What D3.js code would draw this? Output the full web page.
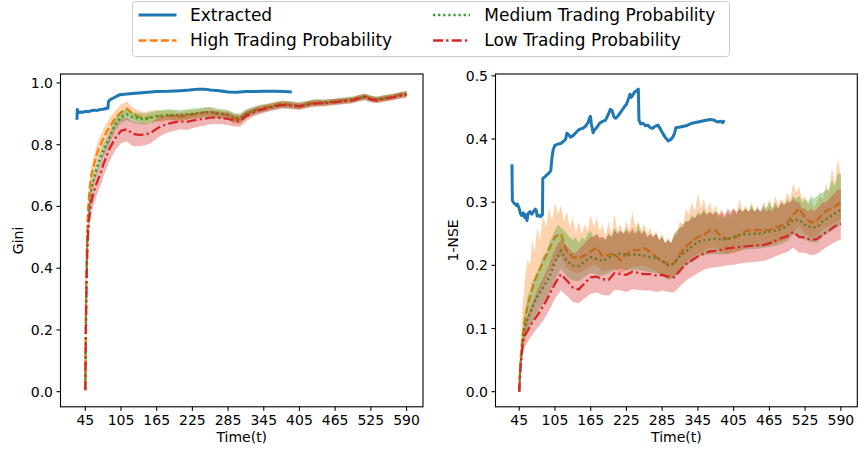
<!DOCTYPE html>
<html><head><meta charset="utf-8">
<script src="https://cdn.jsdelivr.net/npm/d3@7"></script>
<style>body{margin:0;background:#fff}svg{display:block}</style>
</head><body><svg id="c" width="858" height="453"></svg>
<script>
// ---------- DATA ----------
const xTickIdx = [0,60,120,180,240,300,360,420,480,540];
const xTickLabels = ["45","105","165","225","285","345","405","465","525","590"];
const giniTicks = [0,0.2,0.4,0.6,0.8,1.0];
const nseTicks = [0,0.1,0.2,0.3,0.4,0.5];
const seriesNames = ["Extracted","High Trading Probability","Medium Trading Probability","Low Trading Probability"];

const idxCoarse = [0,1,2,3,4,6,8,10,14,18,22,26,30,
 40,50,60,70,80,90,100,110,120,130,
 140,150,160,170,180,190,200,210,220,230,
 240,250,260,270,280,290,300,310,320,330,
 340,350,360,370,380,390,400,410,420,430,
 440,450,460,470,480,490,500,510,520,530,540];
const idxFine = [0,1,2,3,4,6,8,10,14,18,22,26,30,
 35,40,45,50,55,60,65,70,75,80,
 85,90,95,100,105,110,115,120,125,130,
 135,140,145,150,155,160,165,170,175,180,
 185,190,195,200,205,210,215,220,225,230,
 235,240,245,250,255,260,265,270,275,280,
 285,290,295,300,305,310,315,320,325,330,
 335,340,345,350,355,360,365,370,375,380,
 385,390,395,400,405,410,415,420,425,430,
 435,440,445,450,455,460,465,470,475,480,
 485,490,495,500,505,510,515,520,525,530,
 535,540];

// Gini panel
const extGiniIdx = [-14,-13.5,-12,-8,-4,0,5,10,15,20,25,30,36,38,39,42,48,54,58,70,85,100,120,140,160,175,190,200,210,225,240,255,270,285,300,320,335,347];
const extGini = [0.881,0.914,0.903,0.906,0.905,0.908,0.907,0.91,0.912,0.911,0.914,0.915,0.918,0.918,0.94,0.946,0.952,0.958,0.962,0.964,0.967,0.969,0.972,0.973,0.975,0.977,0.98,0.98,0.977,0.975,0.971,0.97,0.972,0.972,0.973,0.973,0.972,0.971];

const giniHigh = [0.005,0.25,0.40,0.49,0.56,0.63,0.67,0.70,0.73,0.76,0.785,0.80,0.82,
 0.855,0.885,0.905,0.917,0.90,0.89,0.885,0.89,0.893,0.89,
 0.895,0.893,0.89,0.895,0.898,0.90,0.905,0.907,0.90,0.898,
 0.895,0.885,0.883,0.90,0.908,0.915,0.92,0.923,0.928,0.932,
 0.93,0.928,0.925,0.93,0.935,0.937,0.936,0.938,0.94,0.942,
 0.944,0.946,0.952,0.957,0.95,0.946,0.95,0.953,0.957,0.962,0.965];
const giniHighLo = [0.0,0.22,0.37,0.46,0.53,0.60,0.64,0.67,0.70,0.73,0.755,0.77,0.79,
 0.825,0.86,0.88,0.895,0.88,0.87,0.865,0.872,0.875,0.873,
 0.878,0.877,0.874,0.88,0.884,0.886,0.89,0.893,0.887,0.885,
 0.88,0.868,0.866,0.886,0.895,0.903,0.908,0.912,0.917,0.921,
 0.92,0.918,0.915,0.92,0.925,0.927,0.927,0.929,0.931,0.933,
 0.935,0.937,0.943,0.948,0.941,0.937,0.941,0.944,0.948,0.953,0.956];
const giniHighHi = [0.01,0.28,0.43,0.52,0.59,0.66,0.70,0.73,0.76,0.79,0.815,0.83,0.85,
 0.885,0.91,0.93,0.94,0.92,0.91,0.905,0.91,0.912,0.908,
 0.912,0.91,0.906,0.91,0.913,0.914,0.92,0.921,0.914,0.912,
 0.91,0.9,0.899,0.914,0.92,0.927,0.932,0.934,0.939,0.943,
 0.94,0.938,0.935,0.94,0.945,0.947,0.945,0.947,0.949,0.951,
 0.953,0.955,0.961,0.966,0.959,0.955,0.959,0.962,0.966,0.971,0.974];

const giniMed = [0.005,0.22,0.37,0.46,0.52,0.585,0.625,0.655,0.69,0.715,0.74,0.76,0.78,
 0.82,0.865,0.89,0.898,0.888,0.885,0.882,0.887,0.892,0.895,
 0.897,0.895,0.895,0.898,0.90,0.902,0.905,0.906,0.902,0.90,
 0.897,0.888,0.885,0.90,0.908,0.914,0.918,0.922,0.926,0.93,
 0.93,0.928,0.926,0.93,0.934,0.936,0.936,0.938,0.94,0.942,
 0.944,0.946,0.951,0.955,0.949,0.946,0.95,0.953,0.957,0.961,0.964];
const giniMedLo = [0.0,0.20,0.35,0.44,0.50,0.565,0.605,0.635,0.67,0.695,0.72,0.74,0.76,
 0.80,0.845,0.87,0.88,0.87,0.868,0.866,0.87,0.876,0.879,
 0.881,0.879,0.879,0.882,0.885,0.887,0.89,0.891,0.887,0.885,
 0.882,0.873,0.87,0.886,0.895,0.901,0.906,0.91,0.914,0.918,
 0.918,0.916,0.914,0.919,0.923,0.925,0.926,0.928,0.93,0.932,
 0.934,0.936,0.941,0.945,0.939,0.936,0.94,0.943,0.947,0.951,0.954];
const giniMedHi = [0.01,0.24,0.39,0.48,0.54,0.605,0.645,0.675,0.71,0.735,0.76,0.78,0.80,
 0.84,0.885,0.91,0.915,0.905,0.903,0.9,0.905,0.91,0.913,
 0.915,0.913,0.912,0.915,0.917,0.918,0.921,0.922,0.918,0.915,
 0.912,0.903,0.9,0.914,0.921,0.927,0.93,0.934,0.938,0.942,
 0.942,0.94,0.938,0.941,0.945,0.947,0.946,0.948,0.95,0.952,
 0.954,0.956,0.961,0.965,0.959,0.956,0.96,0.963,0.967,0.971,0.974];

const giniLow = [0.005,0.20,0.34,0.43,0.49,0.55,0.59,0.615,0.645,0.67,0.69,0.71,0.735,
 0.785,0.82,0.845,0.85,0.835,0.832,0.833,0.838,0.852,0.862,
 0.868,0.872,0.876,0.874,0.878,0.882,0.884,0.888,0.888,0.886,
 0.884,0.878,0.876,0.892,0.902,0.91,0.915,0.92,0.925,0.928,
 0.928,0.926,0.924,0.928,0.932,0.934,0.934,0.936,0.938,0.94,
 0.942,0.944,0.95,0.954,0.947,0.944,0.948,0.951,0.955,0.959,0.962];
const giniLowLo = [0.0,0.17,0.30,0.39,0.45,0.51,0.55,0.575,0.605,0.63,0.65,0.67,0.695,
 0.745,0.78,0.805,0.81,0.795,0.795,0.798,0.805,0.82,0.832,
 0.84,0.845,0.85,0.848,0.853,0.858,0.861,0.866,0.867,0.866,
 0.864,0.859,0.858,0.876,0.888,0.897,0.903,0.908,0.913,0.917,
 0.917,0.915,0.913,0.917,0.921,0.923,0.924,0.926,0.928,0.93,
 0.932,0.934,0.94,0.944,0.937,0.934,0.938,0.941,0.945,0.949,0.952];
const giniLowHi = [0.01,0.23,0.38,0.47,0.53,0.59,0.63,0.655,0.685,0.71,0.73,0.75,0.775,
 0.825,0.86,0.885,0.89,0.875,0.87,0.868,0.871,0.884,0.892,
 0.896,0.899,0.902,0.9,0.903,0.906,0.907,0.91,0.909,0.906,
 0.904,0.897,0.894,0.908,0.916,0.923,0.927,0.932,0.937,0.939,
 0.939,0.937,0.935,0.939,0.943,0.945,0.944,0.946,0.948,0.95,
 0.952,0.954,0.96,0.964,0.957,0.954,0.958,0.961,0.965,0.969,0.972];

// 1-NSE panel
const extNseIdx = [-12.2,-11.5,-10,-7,-5,-3,0,2,4,7,9,11,13,15,18,21,24,27,29,30,33,36,38,39,39.6,43,46,50,53,55,57,60,65,70,75,78,80,83,86,90,95,99,103,107,112,116,118,119.5,121,124,127,130,135,140,145,150,153,156,159,162,166,170,175,180,184,186,188,191,194,197,200,201,204,208,212,216,220,224,228,233,237,241,245,250,254,258,261,263,270,280,290,300,310,320,327,333,338,342,344];
const extNse = [0.360,0.303,0.300,0.297,0.295,0.297,0.290,0.282,0.279,0.283,0.276,0.280,0.271,0.282,0.285,0.281,0.285,0.289,0.286,0.278,0.279,0.277,0.281,0.28,0.338,0.340,0.343,0.346,0.350,0.37,0.383,0.390,0.392,0.393,0.397,0.400,0.409,0.407,0.403,0.405,0.41,0.414,0.416,0.417,0.421,0.427,0.433,0.436,0.425,0.410,0.415,0.418,0.425,0.428,0.43,0.44,0.447,0.445,0.435,0.433,0.437,0.442,0.449,0.455,0.465,0.471,0.466,0.47,0.475,0.476,0.479,0.430,0.424,0.425,0.421,0.422,0.418,0.417,0.42,0.422,0.416,0.409,0.403,0.397,0.399,0.403,0.41,0.418,0.419,0.421,0.425,0.427,0.429,0.431,0.43,0.427,0.428,0.426,0.43];

const nseHigh = [0.0,0.025,0.045,0.06,0.07,0.09,0.105,0.118,0.135,0.15,0.163,0.175,0.185,
 0.205,0.225,0.245,0.25,0.222,0.213,0.211,0.216,0.222,0.228,
 0.214,0.217,0.218,0.208,0.218,0.224,0.224,0.227,0.222,0.213,
 0.207,0.202,0.203,0.218,0.23,0.238,0.245,0.248,0.255,0.255,
 0.245,0.242,0.243,0.248,0.254,0.256,0.256,0.255,0.256,0.26,
 0.263,0.267,0.28,0.29,0.275,0.268,0.27,0.283,0.288,0.293,0.30];
const nseHighLo = [0.0,0.015,0.03,0.04,0.05,0.065,0.08,0.09,0.105,0.12,0.13,0.14,0.15,
 0.17,0.19,0.205,0.215,0.195,0.19,0.188,0.193,0.198,0.2,
 0.19,0.193,0.195,0.187,0.193,0.198,0.198,0.2,0.195,0.19,
 0.184,0.18,0.181,0.195,0.205,0.212,0.218,0.222,0.228,0.228,
 0.22,0.218,0.219,0.222,0.228,0.23,0.23,0.23,0.231,0.235,
 0.238,0.242,0.254,0.262,0.25,0.244,0.246,0.257,0.262,0.267,0.272];
const nseHighHi = [0.0,0.04,0.07,0.09,0.11,0.14,0.16,0.18,0.21,0.2,0.24,0.22,0.26,
 0.24,0.28,0.26,0.29,0.27,0.30,0.28,0.295,0.27,0.285,
 0.26,0.275,0.25,0.27,0.25,0.265,0.255,0.28,0.26,0.275,
 0.255,0.265,0.245,0.27,0.25,0.28,0.255,0.265,0.25,0.27,
 0.255,0.285,0.26,0.27,0.255,0.265,0.25,0.26,0.245,0.255,
 0.24,0.25,0.235,0.245,0.235,0.25,0.255,0.27,0.265,0.29,
 0.28,0.3,0.285,0.315,0.29,0.305,0.285,0.3,0.285,0.295,
 0.28,0.29,0.275,0.285,0.275,0.29,0.28,0.305,0.285,0.295,
 0.285,0.3,0.285,0.295,0.285,0.3,0.29,0.305,0.29,0.31,
 0.295,0.305,0.3,0.315,0.305,0.33,0.315,0.325,0.305,0.31,
 0.295,0.305,0.29,0.3,0.31,0.305,0.33,0.315,0.355,0.33,
 0.37,0.34];

const nseMed = [0.0,0.02,0.038,0.05,0.06,0.08,0.095,0.105,0.115,0.124,0.133,0.142,0.15,
 0.165,0.18,0.205,0.223,0.207,0.2,0.199,0.206,0.213,0.21,
 0.207,0.212,0.216,0.219,0.216,0.217,0.217,0.215,0.213,0.212,
 0.207,0.2,0.203,0.215,0.222,0.23,0.237,0.24,0.241,0.242,
 0.241,0.242,0.245,0.248,0.249,0.25,0.25,0.252,0.253,0.255,
 0.258,0.262,0.272,0.272,0.264,0.26,0.26,0.27,0.276,0.282,0.288];
const nseMedLo = [0.0,0.01,0.025,0.035,0.045,0.062,0.075,0.085,0.095,0.103,0.11,0.118,0.125,
 0.14,0.155,0.178,0.195,0.182,0.176,0.175,0.182,0.188,0.186,
 0.183,0.188,0.192,0.195,0.192,0.193,0.193,0.191,0.189,0.188,
 0.183,0.177,0.18,0.192,0.199,0.206,0.213,0.216,0.217,0.218,
 0.217,0.218,0.221,0.224,0.225,0.226,0.226,0.228,0.229,0.231,
 0.234,0.238,0.248,0.248,0.24,0.236,0.236,0.246,0.252,0.258,0.264];
const nseMedHi = [0.0,0.03,0.05,0.065,0.075,0.095,0.115,0.13,0.15,0.16,0.175,0.18,0.19,
 0.2,0.215,0.22,0.235,0.245,0.255,0.265,0.26,0.255,0.25,
 0.245,0.24,0.245,0.235,0.245,0.24,0.25,0.255,0.245,0.25,
 0.24,0.245,0.24,0.25,0.245,0.26,0.25,0.255,0.25,0.26,
 0.25,0.255,0.25,0.265,0.25,0.255,0.245,0.25,0.245,0.25,
 0.24,0.245,0.235,0.24,0.235,0.25,0.255,0.26,0.265,0.27,
 0.27,0.28,0.275,0.285,0.28,0.29,0.28,0.285,0.28,0.285,
 0.275,0.28,0.275,0.285,0.28,0.29,0.28,0.29,0.285,0.29,
 0.285,0.295,0.285,0.29,0.285,0.295,0.29,0.3,0.29,0.3,
 0.29,0.3,0.295,0.305,0.3,0.31,0.305,0.31,0.3,0.305,
 0.3,0.31,0.305,0.31,0.315,0.315,0.32,0.32,0.335,0.325,
 0.345,0.345];

const nseLow = [0.0,0.02,0.035,0.048,0.058,0.077,0.085,0.09,0.096,0.103,0.11,0.115,0.12,
 0.135,0.152,0.171,0.186,0.176,0.165,0.162,0.172,0.181,0.182,
 0.178,0.177,0.188,0.186,0.185,0.19,0.188,0.186,0.186,0.184,
 0.185,0.182,0.181,0.192,0.202,0.208,0.214,0.219,0.222,0.223,
 0.225,0.227,0.228,0.229,0.23,0.231,0.232,0.232,0.235,0.239,
 0.243,0.246,0.253,0.245,0.244,0.24,0.242,0.249,0.255,0.262,0.266];
const nseLowLo = [0.0,0.01,0.022,0.032,0.042,0.058,0.066,0.072,0.078,0.085,0.09,0.095,0.1,
 0.112,0.128,0.147,0.16,0.152,0.142,0.14,0.148,0.155,0.157,
 0.153,0.152,0.161,0.16,0.158,0.162,0.161,0.16,0.16,0.158,
 0.16,0.158,0.157,0.167,0.176,0.182,0.188,0.193,0.196,0.197,
 0.198,0.2,0.201,0.203,0.204,0.205,0.206,0.207,0.21,0.214,
 0.218,0.221,0.228,0.22,0.22,0.216,0.218,0.225,0.231,0.237,0.241];
const nseLowHi = [0.0,0.03,0.045,0.06,0.07,0.09,0.1,0.11,0.12,0.13,0.14,0.15,0.16,
 0.17,0.18,0.19,0.2,0.215,0.225,0.235,0.24,0.235,0.23,
 0.225,0.22,0.22,0.225,0.23,0.235,0.24,0.245,0.245,0.25,
 0.245,0.245,0.24,0.25,0.245,0.255,0.25,0.255,0.25,0.255,
 0.25,0.26,0.25,0.255,0.25,0.255,0.245,0.25,0.245,0.25,
 0.24,0.245,0.235,0.24,0.235,0.245,0.25,0.26,0.26,0.27,
 0.27,0.275,0.275,0.28,0.28,0.285,0.28,0.285,0.28,0.285,
 0.28,0.285,0.28,0.29,0.285,0.29,0.285,0.29,0.285,0.29,
 0.285,0.29,0.285,0.29,0.285,0.29,0.285,0.29,0.285,0.295,
 0.29,0.3,0.295,0.3,0.3,0.305,0.3,0.3,0.29,0.29,
 0.285,0.29,0.285,0.29,0.295,0.3,0.3,0.305,0.31,0.315,
 0.32,0.32];

// ---------- STYLE ----------
const FONT = '"DejaVu Sans", Verdana, sans-serif';
const COLORS = ["#1f77b4","#ff7f0e","#2ca02c","#d62728"];
const DASH = [null,"8,3.2","2.2,2.9","10,3.2,2.3,3.2"];
const WIDTH = [3,2.3,2.3,2.3];
const BAND_OPACITY = 0.34;

const svg = d3.select("#c");

function panel(id, frame, yLabel, yTicks, extIdx, extVals, models, yLabelX) {
  const allY = [].concat(extVals, ...models.flatMap(m => [m.mean, m.lo, m.hi]));
  const allX = [].concat(extIdx, idxCoarse);
  const [xmin, xmax] = d3.extent(allX), [ymin, ymax] = d3.extent(allY);
  const xp = (xmax - xmin) * 0.05, yp = (ymax - ymin) * 0.05;
  const x = d3.scaleLinear().domain([xmin - xp, xmax + xp]).range([frame.l, frame.r]);
  const y = d3.scaleLinear().domain([ymin - yp, ymax + yp]).range([frame.b, frame.t]);

  svg.append("clipPath").attr("id", "clip" + id).append("rect")
    .attr("x", frame.l).attr("y", frame.t).attr("width", frame.r - frame.l).attr("height", frame.b - frame.t);
  const g = svg.append("g").attr("clip-path", `url(#clip${id})`);
  const line = d3.line().x(d => x(d[0])).y(d => y(d[1]));

  // extracted
  g.append("path").attr("d", line(extIdx.map((v, i) => [v, extVals[i]])))
    .attr("fill", "none").attr("stroke", COLORS[0]).attr("stroke-width", WIDTH[0])
    .attr("stroke-linejoin", "round");

  models.forEach((m, k) => {
    const c = COLORS[k + 1];
    const upper = m.hiIdx.map((v, i) => [v, m.hi[i]]);
    const lower = m.loIdx.map((v, i) => [v, m.lo[i]]).reverse();
    g.append("path").attr("d", line(upper.concat(lower)) + "Z")
      .attr("fill", c).attr("fill-opacity", BAND_OPACITY).attr("stroke", "none");
    g.append("path").attr("d", line(idxCoarse.map((v, i) => [v, m.mean[i]])))
      .attr("fill", "none").attr("stroke", c).attr("stroke-width", WIDTH[k + 1])
      .attr("stroke-dasharray", DASH[k + 1]);
  });

  // spines
  svg.append("rect").attr("x", frame.l).attr("y", frame.t)
    .attr("width", frame.r - frame.l).attr("height", frame.b - frame.t)
    .attr("fill", "none").attr("stroke", "#000").attr("stroke-width", 1.1);

  // x ticks
  const xt = svg.append("g");
  xTickIdx.forEach((v, i) => {
    const px = x(v);
    xt.append("line").attr("x1", px).attr("x2", px).attr("y1", frame.b).attr("y2", frame.b + 4)
      .attr("stroke", "#000").attr("stroke-width", 1.1);
    xt.append("text").attr("x", px).attr("y", frame.b + 18.5).attr("text-anchor", "middle")
      .attr("font-family", FONT).attr("font-size", 14).text(xTickLabels[i]);
  });
  // y ticks
  const fmt = d3.format(".1f");
  yTicks.forEach(v => {
    const py = y(v);
    xt.append("line").attr("x1", frame.l - 4).attr("x2", frame.l).attr("y1", py).attr("y2", py)
      .attr("stroke", "#000").attr("stroke-width", 1.1);
    xt.append("text").attr("x", frame.l - 7.5).attr("y", py).attr("dy", "0.36em").attr("text-anchor", "end")
      .attr("font-family", FONT).attr("font-size", 14).text(fmt(v));
  });
  svg.append("text").attr("x", (frame.l + frame.r) / 2).attr("y", 442).attr("text-anchor", "middle")
    .attr("font-family", FONT).attr("font-size", 14).text("Time(t)");
  svg.append("text").attr("transform", `translate(${yLabelX},${(frame.t + frame.b) / 2}) rotate(-90)`)
    .attr("text-anchor", "middle").attr("font-family", FONT).attr("font-size", 14).text(yLabel);
}

panel("L", {l:60.5, t:74, r:423, b:406.8}, "Gini", giniTicks, extGiniIdx, extGini, [
  {mean: giniHigh, lo: giniHighLo, hi: giniHighHi, loIdx: idxCoarse, hiIdx: idxCoarse},
  {mean: giniMed, lo: giniMedLo, hi: giniMedHi, loIdx: idxCoarse, hiIdx: idxCoarse},
  {mean: giniLow, lo: giniLowLo, hi: giniLowHi, loIdx: idxCoarse, hiIdx: idxCoarse}
], 23);

panel("R", {l:495.5, t:74, r:857.3, b:406.8}, "1-NSE", nseTicks, extNseIdx, extNse, [
  {mean: nseHigh, lo: nseHighLo, hi: nseHighHi, loIdx: idxCoarse, hiIdx: idxFine},
  {mean: nseMed, lo: nseMedLo, hi: nseMedHi, loIdx: idxCoarse, hiIdx: idxFine},
  {mean: nseLow, lo: nseLowLo, hi: nseLowHi, loIdx: idxCoarse, hiIdx: idxFine}
], 458);

// ---------- LEGEND ----------
const lg = svg.append("g");
lg.append("rect").attr("x", 132.5).attr("y", 1.5).attr("width", 597).attr("height", 55).attr("rx", 3)
  .attr("fill", "#fff").attr("fill-opacity", 0.8).attr("stroke", "#cccccc").attr("stroke-width", 1);
const legPos = [
  {x1: 138.5, x2: 176.5, tx: 190, ly: 15, ty: 21},
  {x1: 138.5, x2: 176.5, tx: 190, ly: 40.5, ty: 45.7},
  {x1: 433, x2: 470, tx: 484.3, ly: 15, ty: 21},
  {x1: 433, x2: 470, tx: 484.3, ly: 40.5, ty: 45.7}
];
seriesNames.forEach((name, k) => {
  const p = legPos[k];
  lg.append("line").attr("x1", p.x1).attr("x2", p.x2).attr("y1", p.ly).attr("y2", p.ly)
    .attr("stroke", COLORS[k]).attr("stroke-width", WIDTH[k]).attr("stroke-dasharray", DASH[k]);
  lg.append("text").attr("x", p.tx).attr("y", p.ty).attr("font-family", FONT).attr("font-size", 17).text(name);
});
</script>
</body></html>
